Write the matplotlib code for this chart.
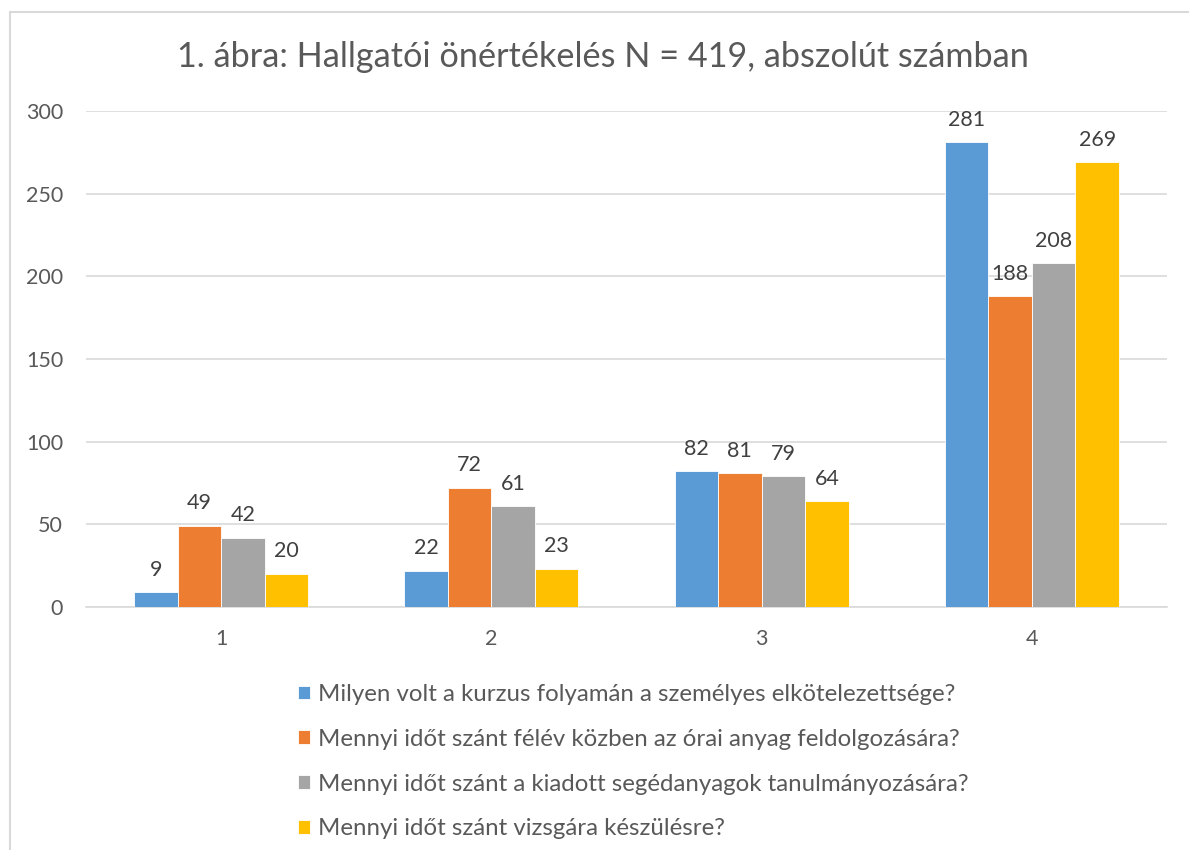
# Excel-style grouped bar chart: Hallgatói önértékelés N = 419
import numpy as np
import matplotlib
matplotlib.use("Agg")
import matplotlib.pyplot as plt
from matplotlib.patches import Rectangle

plt.rcParams["font.family"] = ["Lato", "DejaVu Sans"]

# Data
categories = ["1", "2", "3", "4"]
series_names = [
    "Milyen volt a kurzus folyamán a személyes elkötelezettsége?",
    "Mennyi időt szánt félév közben az órai anyag feldolgozására?",
    "Mennyi időt szánt a kiadott segédanyagok tanulmányozására?",
    "Mennyi időt szánt vizsgára készülésre?",
]
s1 = [9, 22, 82, 281]
s2 = [49, 72, 81, 188]
s3 = [42, 61, 79, 208]
s4 = [20, 23, 64, 269]
yticks = [0, 50, 100, 150, 200, 250, 300]
title = "1. ábra: Hallgatói önértékelés N = 419, abszolút számban"

colors = ["#5B9BD5", "#ED7D31", "#A5A5A5", "#FFC000"]
TXT = "#595959"
GRID = "#D9D9D9"

fig = plt.figure(figsize=(11.89, 8.5), dpi=100)
ax = fig.add_axes([86 / 1189, 1 - 607 / 850, (1167 - 86) / 1189, (607 - 111) / 850])

x = np.arange(len(categories))
w = 0.161
for i, (vals, name) in enumerate(zip([s1, s2, s3, s4], series_names)):
    bars = ax.bar(x + (i - 1.5) * w, vals, w, color=colors[i], label=name,
                  edgecolor="white", linewidth=0.6, zorder=3)
    ax.bar_label(bars, padding=9, fontsize=15.5, color="#404040")

ax.set_xlim(-0.5, 3.5)
ax.set_ylim(0, 300)
ax.set_xticks(x, categories)
ax.set_yticks(yticks)
ax.tick_params(length=0, labelsize=15.5, labelcolor=TXT)
ax.tick_params(axis="x", pad=16)
ax.tick_params(axis="y", pad=16.5)
ax.grid(axis="y", color=GRID, lw=1.2, zorder=0)
for s in ["top", "right", "left"]:
    ax.spines[s].set_visible(False)
ax.spines["bottom"].set_color(GRID)
ax.spines["bottom"].set_linewidth(1.2)

fig.text(603 / 1189, 1 - 57 / 850, title, ha="center", va="center",
         fontsize=24.7, color=TXT)

leg = fig.legend(loc="upper left", bbox_to_anchor=(286 / 1189, 1 - 672 / 850),
                 frameon=False, fontsize=17.3, labelcolor=TXT, handlelength=0.5,
                 handleheight=0.5, handletextpad=0.35, labelspacing=0.99,
                 borderpad=0)

# outer chart border (cropped on the right/bottom)
fig.add_artist(Rectangle((10 / 1189, -0.1), 1.2, 1 - 12 / 850 + 0.1,
                         transform=fig.transFigure, fill=False,
                         edgecolor=GRID, lw=1.5))

fig.savefig("out.png", dpi=100, facecolor="white")
